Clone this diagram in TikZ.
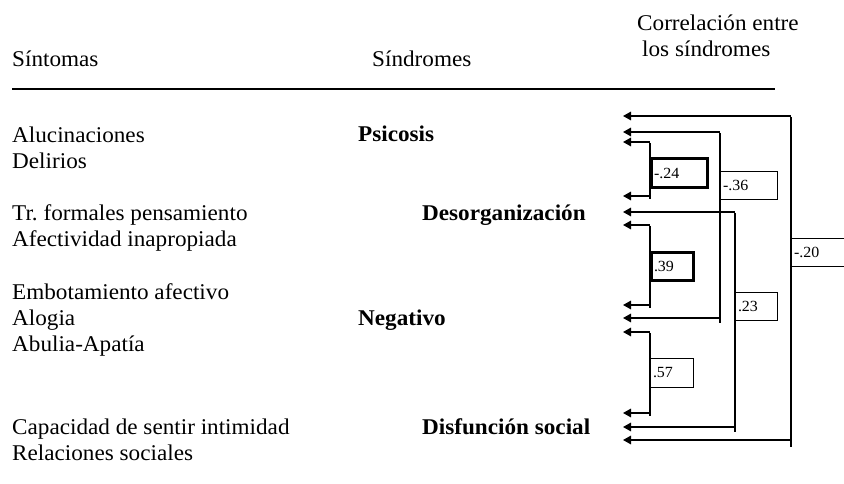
\documentclass[tikz,border=0pt]{standalone}
\usepackage{fontspec}
\setmainfont{Liberation Serif}[FakeStretch=1.03]
\usetikzlibrary{arrows.meta}
\begin{document}
\frenchspacing
\begin{tikzpicture}[x=1pt,y=-1pt,
  txt/.style={anchor=base west, inner sep=0pt, font=\fontsize{22.5}{26}\selectfont},
  syn/.style={txt, font=\fontsize{22.5}{26}\selectfont\bfseries},
  arr/.style={line width=1.6pt, -{Triangle[length=8pt,width=8.5pt]}},
  vln/.style={line width=2pt},
  cbox/.style={draw, line width=1pt, fill=white, rectangle, anchor=north west,
    inner xsep=2.5pt, inner ysep=0pt, align=left,
    font=\fontsize{15.5}{15.5}\selectfont},
  cboxthick/.style={cbox, line width=3pt},
  rule/.style={line width=1.2pt}
]
\useasboundingbox (0,0) rectangle (844,484);

% headers
\node[txt] (hsin) at (12,67) {Síntomas};
\node[txt] (hsyn) at (372,67) {Síndromes};
\node[txt] (hcor1) at (637,31) {Correlación entre};
\node[txt] (hcor2) at (642,57) {los síndromes};
\coordinate (rl) at (12,89);
\coordinate (rr) at (775,89);
\draw[rule] (rl) -- (rr);

% symptoms
\node[txt] (s1) at (12,143) {Alucinaciones};
\node[txt] (s2) at (12,169) {Delirios};
\node[txt] (s3) at (12,221) {Tr.\ formales pensamiento};
\node[txt] (s4) at (12,247) {Afectividad inapropiada};
\node[txt] (s5) at (12,299) {Embotamiento afectivo};
\node[txt] (s6) at (12,325) {Alogia};
\node[txt] (s7) at (12,351) {Abulia-Apatía};
\node[txt] (s8) at (12,434) {Capacidad de sentir intimidad};
\node[txt] (s9) at (12,460) {Relaciones sociales};

% syndromes
\node[syn] (psi) at (358,142) {Psicosis};
\node[syn] (des) at (422,220) {Desorganización};
\node[syn] (neg) at (358,325) {Negativo};
\node[syn] (dis) at (422,434) {Disfunción social};

% arrow tips
\coordinate (t20a) at (623,116); \coordinate (t20b) at (623,440);
\coordinate (t36a) at (623,132); \coordinate (t36b) at (623,318);
\coordinate (t24a) at (623,142); \coordinate (t24b) at (623,196);
\coordinate (t23a) at (623,212); \coordinate (t23b) at (623,427);
\coordinate (t39a) at (623,225); \coordinate (t39b) at (623,305);
\coordinate (t57a) at (623,332); \coordinate (t57b) at (623,413);

% bracket corners
\coordinate (c20a) at (791,116); \coordinate (c20b) at (791,440); \coordinate (e20) at (791,447);
\coordinate (c36a) at (720,132); \coordinate (c36b) at (720,318); \coordinate (e36) at (720,323);
\coordinate (c24a) at (650,142); \coordinate (c24b) at (650,196); \coordinate (e24) at (650,199);
\coordinate (c23a) at (735,212); \coordinate (c23b) at (735,427); \coordinate (e23) at (735,432);
\coordinate (c39a) at (650,225); \coordinate (c39b) at (650,305); \coordinate (e39) at (650,308);
\coordinate (c57a) at (650,332); \coordinate (c57b) at (650,413); \coordinate (e57) at (650,416);

% vertical bars
\draw[vln] ([yshift=-0.8pt]c20a) -- (e20);
\draw[vln] ([yshift=-0.8pt]c36a) -- (e36);
\draw[vln] ([yshift=-0.8pt]c24a) -- (e24);
\draw[vln] ([yshift=-0.8pt]c23a) -- (e23);
\draw[vln] ([yshift=-0.8pt]c39a) -- (e39);
\draw[vln] ([yshift=-0.8pt]c57a) -- (e57);

% arrows
\foreach \n in {20,36,24,23,39,57}{
  \draw[arr] (c\n a) -- (t\n a);
  \draw[arr] (c\n b) -- (t\n b);
}

% correlation boxes
\node[cboxthick, minimum height=29pt, text width=51pt] (b24) at (650,157) {-.24};
\node[cbox, minimum height=28pt, text width=52pt] (b36) at (720,171) {-.36};
\node[cboxthick, minimum height=28pt, text width=37pt] (b39) at (650,251) {.39};
\node[cbox, minimum height=28pt, text width=37pt] (b23) at (735,292) {.23};
\node[cbox, minimum height=29pt, text width=38pt] (b57) at (650,358) {.57};
\node[cbox, minimum height=28pt, text width=70pt] (b20) at (791,238) {-.20};
\end{tikzpicture}
\end{document}
